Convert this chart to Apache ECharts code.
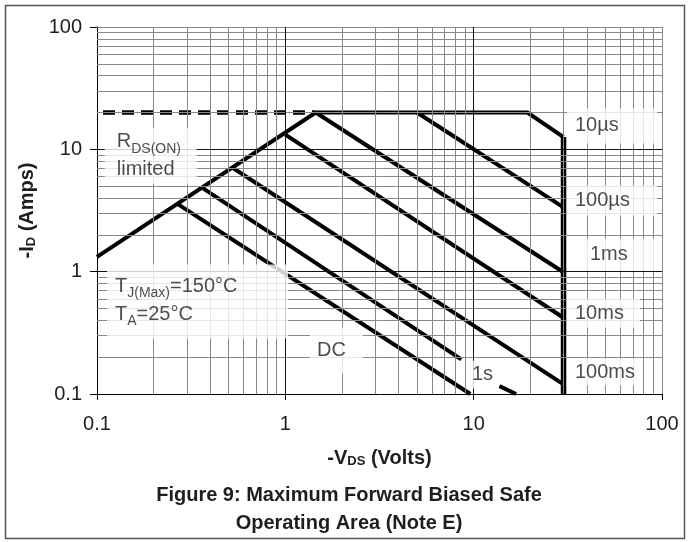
<!DOCTYPE html>
<html>
<head>
<meta charset="utf-8">
<script src="https://cdn.jsdelivr.net/npm/echarts@6/dist/echarts.min.js"></script>
<style>
html,body{margin:0;padding:0;background:#fff;}
#c{width:688px;height:542px;}
</style>
</head>
<body>
<div id="c"></div>
<script>
// ---- data ----
const xTickLabels = ['0.1', '1', '10', '100'];
const yTickLabels = ['0.1', '1', '10', '100'];
const minorGrid = [0.2, 0.3, 0.4, 0.5, 0.6, 0.7, 0.8, 0.9, 2, 3, 4, 5, 6, 7, 8, 9, 20, 30, 40, 50, 60, 70, 80, 90];
const majorGrid = [1, 10];
const edgeGrid = [100];

const rdsLimit = [[0.1, 1.32], [1.45, 20]];
const rdsDashed = [[0.1076, 20], [1.45, 20]];
const limit10us = [[1.45, 20], [19.3, 20], [30, 12.6]];
const voltLimit = [[30, 12.6], [30, 0.1]];
const line100us = [[5.0, 20], [30, 3.35]];
const line1ms = [[1.45, 20], [30, 0.99]];
const line10ms = [[1.0, 13.2], [30, 0.42]];
const line100ms = [[0.53, 7.0], [30, 0.12]];
const line1sA = [[0.366, 4.8], [8.6, 0.192]];
const line1sB = [[13.7, 0.116], [16.8, 0.1]];
const lineDC = [[0.27, 3.55], [9.6, 0.1]];

const FONT = "'Liberation Sans', Arial, sans-serif";
const TXT = '#1e1e1e';

const chart = echarts.init(document.getElementById('c'), null, {renderer: 'canvas'});

function curve(data, width, type) {
  return {
    type: 'line', data: data, symbol: 'none', z: 3, silent: true, animation: false,
    lineStyle: {color: '#000', width: width, type: type || 'solid', cap: 'butt', join: 'miter'}
  };
}

function boxLabel(x, y, text, padding, width, lh) {
  return {
    value: [x, y],
    label: {
      show: true, position: 'inside', align: 'left', verticalAlign: 'middle',
      formatter: text, backgroundColor: '#fff', padding: padding, width: width,
      rich: {
        m: {fontSize: 20, fontFamily: FONT, color: TXT, lineHeight: lh},
        s: {fontSize: 14, fontFamily: FONT, color: TXT, lineHeight: 17, verticalAlign: 'bottom'}
      }
    }
  };
}

const labels = [
  boxLabel(0.110, 8.88, '{m|R}{s|DS(ON)}\n{m|limited}', [0, 0, 0, 12], 80, 28),
  boxLabel(0.113, 0.569, '{m|T}{s|J(Max)}{m|=150°C}\n{m|T}{s|A}{m|=25°C}', [8, 0, 10, 8], 173, 28),
  boxLabel(1.352, 0.226, '{m|DC}', [9, 0, 9, 7], 46, 28),
  boxLabel(9.33, 0.144, '{m|1s}', [3, 2, 3, 4], 22, 22),
  boxLabel(31.3, 15.5, '{m|10µs}', [5, 0, 6, 8], 82, 24),
  boxLabel(31.3, 3.81, '{m|100µs}', [3, 0, 3, 8], 82, 24),
  boxLabel(31.3, 1.377, '{m|1ms}', [4, 0, 4, 23], 67, 24),
  boxLabel(31.3, 0.458, '{m|10ms}', [3, 0, 2, 8], 65, 24),
  boxLabel(31.3, 0.151, '{m|100ms}', [2, 0, 1, 8], 68, 24)
];

const nameRich = {s: {fontFamily: FONT, fontSize: 13, fontWeight: 'bold', color: TXT, verticalAlign: 'bottom', lineHeight: 16}};

const option = {
  backgroundColor: '#fff',
  animation: false,
  title: {
    text: 'Figure 9: Maximum Forward Biased Safe\nOperating Area (Note E)',
    left: 344, top: 476, textAlign: 'center',
    textStyle: {fontFamily: FONT, fontSize: 20, fontWeight: 'bold', color: TXT, lineHeight: 28}
  },
  graphic: [{
    type: 'rect', shape: {x: 5.5, y: 5.5, width: 679, height: 533},
    style: {fill: 'none', stroke: '#555', lineWidth: 1.5}, silent: true, z: 0
  }],
  grid: {left: 97, right: 26, top: 27, bottom: 148, containLabel: false},
  xAxis: {
    type: 'log', logBase: 10, min: 0.1, max: 100,
    name: '-V{s|DS} (Volts)', nameLocation: 'middle', nameGap: 54,
    nameTextStyle: {fontFamily: FONT, fontSize: 20, fontWeight: 'bold', color: TXT, rich: nameRich},
    axisLine: {show: true, lineStyle: {color: '#000', width: 1}},
    axisTick: {show: true, length: 6, lineStyle: {color: '#000'}},
    axisLabel: {fontFamily: FONT, fontSize: 20, color: TXT, margin: 20,
      formatter: v => xTickLabels[Math.round(Math.log10(v)) + 1]},
    splitLine: {show: false}, minorTick: {show: false}
  },
  yAxis: {
    type: 'log', logBase: 10, min: 0.1, max: 100,
    name: '-I{s|D} (Amps)', nameLocation: 'middle', nameGap: 57, nameRotate: 90,
    nameTextStyle: {fontFamily: FONT, fontSize: 20, fontWeight: 'bold', color: TXT, rich: nameRich},
    axisLine: {show: true, lineStyle: {color: '#000', width: 1}},
    axisTick: {show: true, length: 7, lineStyle: {color: '#000'}},
    axisLabel: {fontFamily: FONT, fontSize: 20, color: TXT, margin: 15,
      formatter: v => yTickLabels[Math.round(Math.log10(v)) + 1]},
    splitLine: {show: false}, minorTick: {show: false}
  },
  series: [
    {
      type: 'line', data: [], z: 1, silent: true, animation: false, symbol: 'none',
      markLine: {
        silent: true, symbol: ['none', 'none'], label: {show: false}, animation: false,
        lineStyle: {type: 'solid', color: '#888', width: 1},
        data: minorGrid.map(v => ({xAxis: v})).concat(minorGrid.map(v => ({yAxis: v})))
          .concat(edgeGrid.map(v => ({xAxis: v}))).concat(edgeGrid.map(v => ({yAxis: v})))
      }
    },
    {
      type: 'line', data: [], z: 2, silent: true, animation: false, symbol: 'none',
      markLine: {
        silent: true, symbol: ['none', 'none'], label: {show: false}, animation: false,
        lineStyle: {type: 'solid', color: '#111', width: 1},
        data: majorGrid.map(v => ({xAxis: v})).concat(majorGrid.map(v => ({yAxis: v})))
      }
    },
    curve(rdsLimit, 4),
    curve(rdsDashed, 4.5, [12, 7]),
    curve(limit10us, 4),
    curve(voltLimit, 5.5),
    curve(line100us, 4),
    curve(line1ms, 4),
    curve(line10ms, 4),
    curve(line100ms, 4),
    curve(line1sA, 4),
    curve(line1sB, 4),
    curve(lineDC, 4),
    {
      type: 'scatter', symbolSize: 0, z: 5, silent: true, animation: false,
      data: labels
    }
  ]
};
chart.setOption(option);
</script>
</body>
</html>
